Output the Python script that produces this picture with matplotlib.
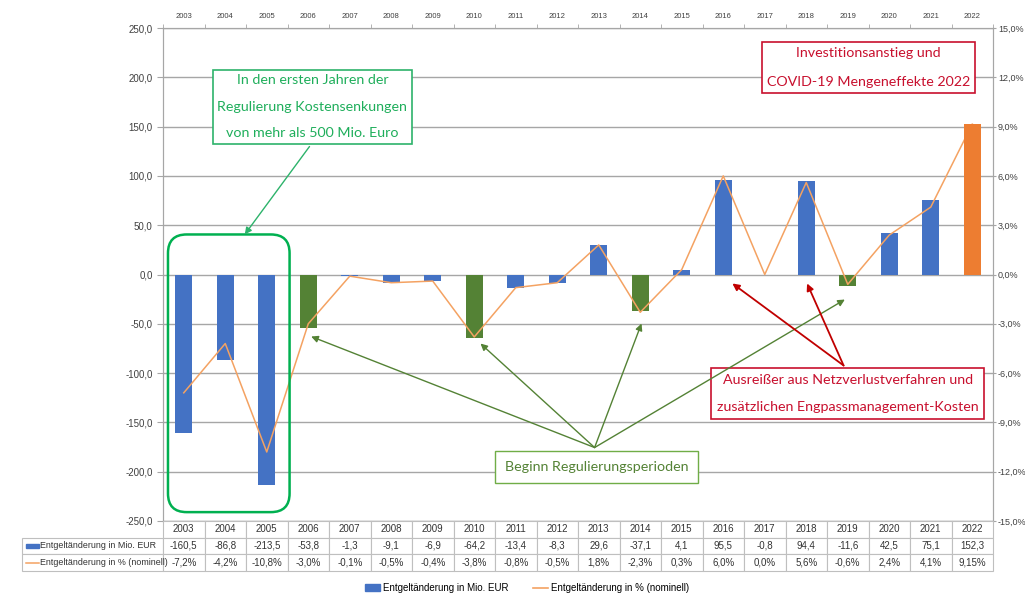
import matplotlib.pyplot as plt
from matplotlib.patches import FancyBboxPatch, Rectangle, Patch
from matplotlib.lines import Line2D

years = ["2003", "2004", "2005", "2006", "2007", "2008", "2009", "2010", "2011", "2012",
         "2013", "2014", "2015", "2016", "2017", "2018", "2019", "2020", "2021", "2022"]
eur = [-160.5, -86.8, -213.5, -53.8, -1.3, -9.1, -6.9, -64.2, -13.4, -8.3,
       29.6, -37.1, 4.1, 95.5, -0.8, 94.4, -11.6, 42.5, 75.1, 152.3]
pct = [-7.2, -4.2, -10.8, -3.0, -0.1, -0.5, -0.4, -3.8, -0.8, -0.5,
       1.8, -2.3, 0.3, 6.0, 0.0, 5.6, -0.6, 2.4, 4.1, 9.15]
# Beginn der Regulierungsperioden
period_start = ["2006", "2010", "2014", "2019"]
highlight = "2022"

BLUE = "#4472C4"
GREEN = "#548235"
ORANGE = "#ED7D31"
LINE = "#F4A262"
GRID = "#A6A6A6"
TXT = "#404040"
NOTEFONT = ["Lato", "DejaVu Sans"]

plt.rcParams["font.family"] = ["Liberation Sans", "DejaVu Sans"]

RIGHT = 993
fig = plt.figure(figsize=(10.25, 5.97), dpi=100)
ax = fig.add_axes([163 / 1025, 1 - 521 / 597, (RIGHT - 163) / 1025, 493 / 597])
ax2 = ax.twinx()

x = list(range(len(years)))
colors = []
for y in years:
    if y == highlight:
        colors.append(ORANGE)
    elif y in period_start:
        colors.append(GREEN)
    else:
        colors.append(BLUE)

ax.set_xlim(-0.5, len(years) - 0.5)
ax.set_ylim(-250, 250)
ax2.set_ylim(-15, 15)

for i in range(len(years)):
    ax.bar(x[i], eur[i], width=0.4, color=colors[i],
           zorder=5 if years[i] == highlight else 3)
ax.plot(x, pct, color=LINE, lw=1.1, transform=ax2.transData, zorder=4)

# Achsen
ax.set_yticks(range(-250, 251, 50))
ax.set_yticklabels([f"{v:.1f}".replace(".", ",") for v in range(-250, 251, 50)],
                   fontsize=7, color=TXT)
ax2.set_yticks(range(-15, 16, 3))
ax2.set_yticklabels([f"{v:.1f}%".replace(".", ",") for v in range(-15, 16, 3)],
                    fontsize=6.5, color=TXT)
ax.yaxis.grid(True, color=GRID, lw=1.0, zorder=0)
ax.set_axisbelow(True)
ax.xaxis.tick_top()
ax.set_xticks(x)
ax.set_xticklabels(years, fontsize=5.5, color=TXT)
ax.tick_params(axis="x", length=0, pad=6)
ax.set_xticks([i - 0.5 for i in x] + [len(years) - 0.5], minor=True)
ax.tick_params(axis="x", which="minor", length=3, color=GRID, top=True, bottom=False)
ax.tick_params(axis="y", length=4, color=GRID)
ax2.tick_params(axis="y", length=2.5, pad=1, color=GRID)
for a in (ax, ax2):
    for s in a.spines.values():
        s.set_color(GRID)

# Markierung 2003-2005
fig.canvas.draw()
p0 = ax.transData.transform((0, 0))
p1 = ax.transData.transform((1, 1))
aspect = (p1[0] - p0[0]) / (p1[1] - p0[1])
box = FancyBboxPatch((-0.38 + 0.45, -241 + 0.45 * aspect), 2.93 - 0.9, 281.6 - 0.9 * aspect,
                     boxstyle="round,pad=0.45", mutation_aspect=aspect,
                     fc="none", ec="#00B050", lw=1.8, zorder=6)
ax.add_patch(box)

# Textboxen
ax.text(3.1, 170, "In den ersten Jahren der\nRegulierung Kostensenkungen\nvon mehr als 500 Mio. Euro",
        ha="center", va="center", fontsize=10.3, color="#1FAE5B", family=NOTEFONT, linespacing=2.45,
        bbox=dict(boxstyle="square,pad=0.3", fc="white", ec="#2DB36B", lw=1.2), zorder=7)
ax.text(16.5, 210, "Investitionsanstieg und\nCOVID-19 Mengeneffekte 2022",
        ha="center", va="center", fontsize=10.3, color="#C8102E", family=NOTEFONT, linespacing=2.7,
        bbox=dict(boxstyle="square,pad=0.35", fc="white", ec="#C8102E", lw=1.2), zorder=7)
ax.text(16.0, -120.7, "Ausreißer aus Netzverlustverfahren und\nzusätzlichen Engpassmanagement-Kosten",
        ha="center", va="center", fontsize=10.3, color="#C8102E", family=NOTEFONT, linespacing=2.5,
        bbox=dict(boxstyle="square,pad=0.4", fc="white", ec="#C8102E", lw=1.2), zorder=7)
ax.text(9.95, -195.7, "Beginn Regulierungsperioden",
        ha="center", va="center", fontsize=10.3, color=GREEN, family=NOTEFONT,
        bbox=dict(boxstyle="square,pad=0.7", fc="white", ec="#70AD47", lw=1.0), zorder=7)

# Pfeile
arr = dict(arrowstyle="-|>,head_length=0.4,head_width=0.2", lw=1.0, shrinkA=0, shrinkB=0)
ax.annotate("", xy=(1.47, 40.6), xytext=(3.03, 129.8),
            arrowprops=dict(arr, color="#2DB36B"), zorder=7)
for tx, ty in [(3.07, -62.9), (7.15, -70), (11.03, -49.7), (15.93, -25.4)]:
    ax.annotate("", xy=(tx, ty), xytext=(9.9, -175.5),
                arrowprops=dict(arr, color=GREEN), zorder=7)
for tx, ty in [(13.22, -9.1), (15.02, -9.1)]:
    ax.annotate("", xy=(tx, ty), xytext=(15.9, -92.3),
                arrowprops=dict(arr, color="#C00000", lw=1.3), zorder=7)

# Datentabelle
TW = RIGHT - 22
tax = fig.add_axes([22 / 1025, 1 - 571 / 597, TW / 1025, 50 / 597])
tax.axis("off")
label_w = 141 / TW
col_w = (1 - label_w) / len(years)
eur_txt = [f"{v:.1f}".replace(".", ",") for v in eur]
pct_txt = [(f"{v:.2f}%" if round(v * 10) != v * 10 else f"{v:.1f}%").replace(".", ",") for v in pct]
cells = [[""] + years, [""] + eur_txt, [""] + pct_txt]
tbl = tax.table(cellText=cells, colWidths=[label_w] + [col_w] * len(years),
                bbox=[0, 0, 1, 1], cellLoc="center")
tbl.auto_set_font_size(False)
for (r, c), cell in tbl.get_celld().items():
    cell.set_edgecolor("#BFBFBF")
    cell.set_linewidth(0.8)
    cell.get_text().set_fontsize(7)
    cell.get_text().set_color("#333333")
    if r == 0 and c == 0:
        cell.visible_edges = ""
tax.add_patch(Rectangle((4 / TW, 0.46), 13 / TW, 0.08, color=BLUE, transform=tax.transAxes))
tax.add_line(Line2D([4 / TW, 17 / TW], [0.17, 0.17], color=LINE, lw=1.1, transform=tax.transAxes))
tax.text(18 / TW, 0.5, "Entgeltänderung in Mio. EUR", fontsize=6.4, color="#333333",
         va="center", ha="left", transform=tax.transAxes)
tax.text(18 / TW, 0.17, "Entgeltänderung in % (nominell)", fontsize=6.4, color="#333333",
         va="center", ha="left", transform=tax.transAxes)

# Legende
handles = [Patch(color=BLUE, label="Entgeltänderung in Mio. EUR"),
           Line2D([], [], color=LINE, lw=1.2, label="Entgeltänderung in % (nominell)")]
fig.legend(handles=handles, loc="center", bbox_to_anchor=(527 / 1025, 1 - 588 / 597),
           ncol=2, frameon=False, fontsize=7, handlelength=1.6, handleheight=0.6,
           columnspacing=2.5, handletextpad=0.3)

fig.savefig("out.png", dpi=100)
